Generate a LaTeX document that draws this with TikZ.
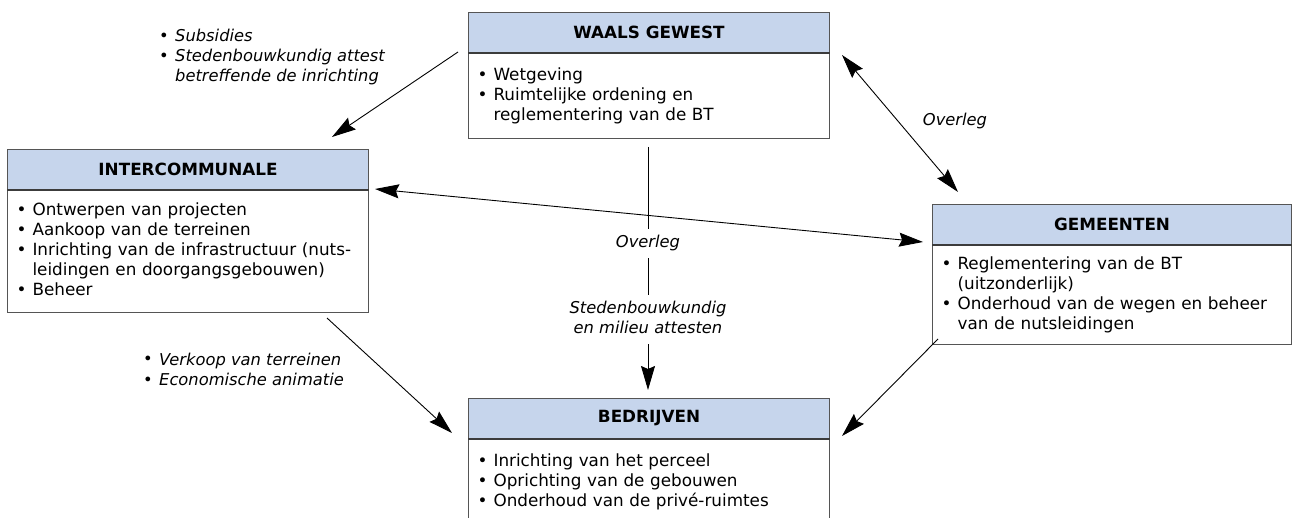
\documentclass[tikz,border=0pt]{standalone}
\usepackage{fontspec}
\setmainfont{DejaVu Sans}
\usetikzlibrary{arrows.meta}

\definecolor{hdrblue}{RGB}{198,213,236}
\definecolor{frame}{RGB}{85,85,85}
\definecolor{divider}{RGB}{60,60,60}

% bullet followed by a fixed indent
\newcommand{\bul}{\makebox[16pt][l]{•}}
% list set with 20pt rows
\newenvironment{blist}{\begin{tabular}{@{}l@{}l@{}}}{\end{tabular}}
\newcommand{\txtfont}{\fontsize{16.8}{20}\selectfont}

\tikzset{
  hdr/.style={draw=frame, line width=1.1pt, fill=hdrblue,
    anchor=north west, minimum height=40pt, inner sep=0pt,
    font=\txtfont\bfseries},
  bodybox/.style={font=\txtfont, draw=frame, line width=1.1pt, fill=white,
    anchor=north west, inner xsep=9pt, inner ysep=0pt, align=left},
  lbl/.style={inner sep=0pt, font=\fontsize{16.3}{20}\selectfont\itshape},
  gaplbl/.style={lbl, fill=white, inner xsep=2pt, inner ysep=4.5pt},
  conn/.style={line width=0.9pt, -{Stealth[length=24pt,width=14pt,inset=3pt]}},
  biconn/.style={line width=0.9pt, {Stealth[length=24pt,width=14pt,inset=3pt]}-{Stealth[length=24pt,width=14pt,inset=3pt]}}
}

\begin{document}
\begin{tikzpicture}[x=1pt,y=-1pt]
\useasboundingbox (0,0) rectangle (1293,518);

% ---------- boxes ----------
% Waals Gewest
\node[hdr, minimum width=361pt] (waalsH) at (468,12) {WAALS GEWEST};
\node[bodybox, text width=343pt, minimum height=85pt] (waalsB) at (waalsH.south west)
  {\begin{blist}\bul & Wetgeving\\ \bul & Ruimtelijke ordening en\\ & reglementering van de BT\end{blist}};
\draw[divider, line width=2.2pt] (waalsH.south west) -- (waalsH.south east);

% Intercommunale
\node[hdr, minimum width=361pt] (interH) at (7,149) {INTERCOMMUNALE};
\node[bodybox, text width=343pt, minimum height=122pt] (interB) at (interH.south west)
  {\begin{blist}\bul & Ontwerpen van projecten\\ \bul & Aankoop van de terreinen\\
   \bul & Inrichting van de infrastructuur (nuts-\\ & leidingen en doorgangsgebouwen)\\
   \bul & Beheer\end{blist}};
\draw[divider, line width=2.2pt] (interH.south west) -- (interH.south east);

% Gemeenten
\node[hdr, minimum width=359pt] (gemH) at (932,204) {GEMEENTEN};
\node[bodybox, text width=341pt, minimum height=99pt] (gemB) at (gemH.south west)
  {\begin{blist}\bul & Reglementering van de BT\\ & (uitzonderlijk)\\
   \bul & Onderhoud van de wegen en beheer\\ & van de nutsleidingen\end{blist}};
\draw[divider, line width=2.2pt] (gemH.south west) -- (gemH.south east);

% Bedrijven (runs past the lower edge)
\node[hdr, minimum width=361pt] (bedrH) at (468,398) {BEDRIJVEN};
\node[bodybox, text width=343pt, minimum height=86pt] (bedrB) at (bedrH.south west)
  {\begin{blist}\bul & Inrichting van het perceel\\ \bul & Oprichting van de gebouwen\\
   \bul & Onderhoud van de privé-ruimtes\end{blist}};
\draw[divider, line width=2.2pt] (bedrH.south west) -- (bedrH.south east);

% ---------- connector ends ----------
\coordinate (gwS) at (458,52);   \coordinate (gwE) at (332,137);
\coordinate (ggS) at (842,55);   \coordinate (ggE) at (958,192);
\coordinate (igS) at (375,189);  \coordinate (igE) at (923,242);
\coordinate (gbS) at (648,147);  \coordinate (gbE) at (648,390);
\coordinate (ibS) at (327,318);  \coordinate (ibE) at (452,433);
\coordinate (mbS) at (938,339);  \coordinate (mbE) at (842,436);

% ---------- connectors ----------
\draw[conn]   (gwS) -- (gwE);
\draw[biconn] (ggS) -- (ggE);
\draw[biconn] (igS) -- (igE);
\draw[conn]   (gbS) -- (gbE);
\draw[conn]   (ibS) -- (ibE);
\draw[conn]   (mbS) -- (mbE);

% ---------- labels ----------
\node[lbl, anchor=west] (lsub) at (159,58)
  {\begin{blist}{\upshape\bul} & Subsidies\\ {\upshape\bul} & Stedenbouwkundig attest\\ & betreffende de inrichting\end{blist}};
\node[lbl] (lov1) at (955,122) {\begin{tabular}{@{}c@{}}Overleg\end{tabular}};
\node[gaplbl] (lov2) at (648,244) {\begin{tabular}{@{}c@{}}Overleg\end{tabular}};
\node[gaplbl] (lsted) at (648,320)
  {\begin{tabular}{@{}c@{}}Stedenbouwkundig\\ en milieu attesten\end{tabular}};
\node[lbl, anchor=west] (lverk) at (143,371)
  {\begin{blist}{\upshape\bul} & Verkoop van terreinen\\ {\upshape\bul} & Economische animatie\end{blist}};
\end{tikzpicture}
\end{document}
